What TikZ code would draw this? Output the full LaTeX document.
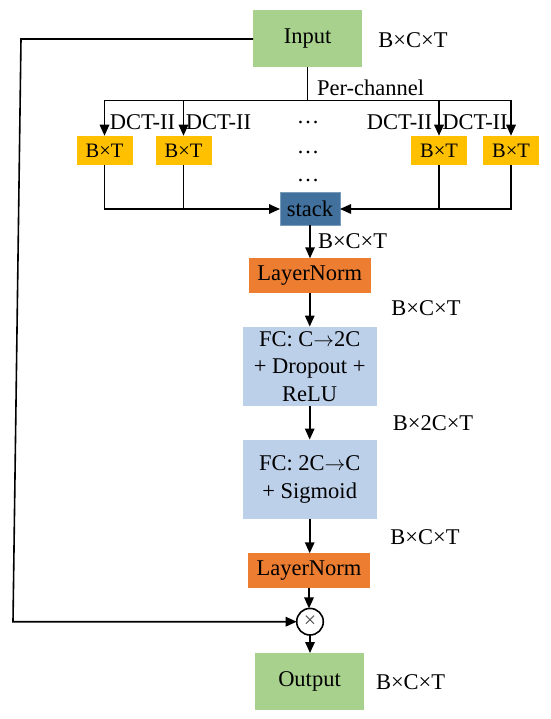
\documentclass[tikz,border=0pt]{standalone}
\usepackage{fontspec}
\setmainfont{Liberation Serif}
\usetikzlibrary{arrows.meta}
\definecolor{ingreen}{HTML}{A9D18E}
\definecolor{bxt}{HTML}{FFC000}
\definecolor{stackblue}{HTML}{41719C}
\definecolor{lnorange}{HTML}{ED7D31}
\definecolor{fcblue}{HTML}{BDD0EA}
\newcommand{\rarr}{\ensuremath{\rightarrow}}
\begin{document}
\begin{tikzpicture}[x=1pt,y=-1pt,
  every node/.style={inner sep=0pt, outer sep=0pt, font=\fontsize{22.5}{27.5}\selectfont},
  iobox/.style={fill=ingreen, minimum width=109pt, minimum height=57pt},
  bxtbox/.style={fill=bxt, minimum width=56pt, minimum height=29.5pt, font=\fontsize{20.5}{24}\selectfont},
  stackbox/.style={fill=stackblue, draw=stackblue!70!white, line width=0.6pt, minimum width=60pt, minimum height=32.5pt},
  lnbox/.style={fill=lnorange, minimum width=121.5pt, minimum height=34.5pt},
  fcbox/.style={fill=fcblue, minimum width=134pt, minimum height=79.5pt, align=center},
  lab/.style={},
  conn/.style={line width=1.6pt},
  arr/.style={conn, -{Triangle[length=11pt,width=9.5pt]}},
  multc/.style={circle, draw, line width=1.6pt, minimum size=26.6pt, fill=white}
]
\useasboundingbox (0,0) rectangle (550,719);

% nodes
\node[iobox] (in) at (307.5,39) {Input};
\node[lab] (inlab) at (413,40) {B×C×T};

\node[bxtbox] (b1) at (104.5,150.5) {B×T};
\node[bxtbox] (b2) at (183.5,150.5) {B×T};
\node[bxtbox] (b3) at (439,150.5) {B×T};
\node[bxtbox] (b4) at (511,150.5) {B×T};

\node[lab, anchor=west] (pc) at (317,88) {Per-channel};
\node[lab] (d1) at (142.5,122) {DCT-II};
\node[lab] (d2) at (218.5,122) {DCT-II};
\node[lab] (d3) at (399.5,122) {DCT-II};
\node[lab] (d4) at (475,122) {DCT-II};

\node[lab, anchor=base] (dots1) at (308,124) {…};
\node[lab, anchor=base] (dots2) at (308,154) {…};
\node[lab, anchor=base] (dots3) at (308,182) {…};

\node[stackbox] (stack) at (310,209) {stack};
\node[lab, anchor=west] (slab) at (318,241) {B×C×T};

\node[lnbox] (ln1) at (309.75,275.5) {LayerNorm};
\node[lab] (l1lab) at (426,308) {B×C×T};

\node[fcbox] (fc1) at (309.7,366.3) {FC: C\rarr2C\\+ Dropout +\\ReLU};
\node[lab] (f1lab) at (433,422.7) {B×2C×T};

\node[fcbox] (fc2) at (309.7,479.3) {FC: 2C\rarr C\\+ Sigmoid};
\node[lab] (f2lab) at (425,536.7) {B×C×T};

\node[lnbox] (ln2) at (309,570.5) {LayerNorm};

\node[multc] (mult) at (310,621.7) {};
\node[font=\fontsize{22}{22}\selectfont, text=black!70] (x) at (mult.center) {×};

\node[iobox] (out) at (309.5,681.5) {Output};
\node[lab] (outlab) at (410.6,681.7) {B×C×T};

% connectors
\coordinate (split) at (307.5,100.7);
\draw[conn] (in.south) -- (split);
\draw[arr] (split) -| (b1.north);
\draw[arr] (split) -| (b2.north);
\draw[arr] (split) -| (b3.north);
\draw[arr] (split) -| (b4.north);

\draw[arr] (b1.south) |- (stack.west);
\draw[conn] (b2.south) -- (b2.south |- stack.west);
\draw[arr] (b4.south) |- (stack.east);
\draw[conn] (b3.south) -- (b3.south |- stack.east);

\draw[arr] (stack.south) -- (stack.south |- ln1.north);
\draw[arr] (ln1.south) -- (ln1.south |- fc1.north);
\draw[arr] (fc1.south) -- (fc1.south |- fc2.north);
\draw[arr] (fc2.south) -- (fc2.south |- ln2.north);
\draw[arr] (ln2.south) -- (ln2.south |- mult.north);
\draw[arr] (mult.south) -- (mult.south |- out.north);

\coordinate (tl) at (21,40);
\coordinate (bl) at (13,621.7);
\draw[arr] (in.west) -- (in.west -| tl) -- (bl) -- (mult.west);
\end{tikzpicture}
\end{document}
